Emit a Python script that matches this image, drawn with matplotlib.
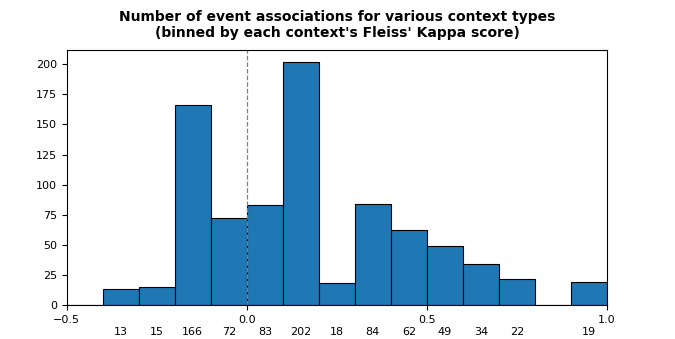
import matplotlib
matplotlib.use('Agg')
import matplotlib.pyplot as plt
import numpy as np

# Bin edges (Fleiss' Kappa) and number of event associations per bin
bin_edges = [-0.5, -0.4, -0.3, -0.2, -0.1, 0.0, 0.1, 0.2, 0.3, 0.4, 0.5, 0.6, 0.7, 0.8, 0.9, 1.0]
counts = [0, 13, 15, 166, 72, 83, 202, 18, 84, 62, 49, 34, 22, 0, 19]
x_ticks = [-0.5, 0.0, 0.5, 1.0]
y_ticks = [0, 25, 50, 75, 100, 125, 150, 175, 200]

fig = plt.figure(figsize=(6.75, 3.39), dpi=100)
ax = fig.add_axes([0.099, 0.1, 0.8, 0.753])

edges = np.array(bin_edges)
widths = np.diff(edges)
ax.bar(edges[:-1], counts, width=widths, align='edge', color='#1f77b4', edgecolor='black', linewidth=0.8)

ax.axvline(0.0, color='gray', linestyle='--', linewidth=0.9)

# counts written below each bin
centers = edges[:-1] + widths / 2
for c, n in zip(centers, counts):
    if n > 0:
        ax.text(c, -0.105, str(n), transform=ax.get_xaxis_transform(), ha='center', va='center', fontsize=8)

ax.set_xlim(-0.5, 1.0)
ax.set_ylim(0, 212)
ax.set_xticks(x_ticks)
ax.set_yticks(y_ticks)
ax.tick_params(labelsize=8)

fig.suptitle("Number of event associations for various context types\n(binned by each context's Fleiss' Kappa score)",
             fontsize=10, fontweight='bold', y=0.97)

fig.savefig('out.png', dpi=100)
